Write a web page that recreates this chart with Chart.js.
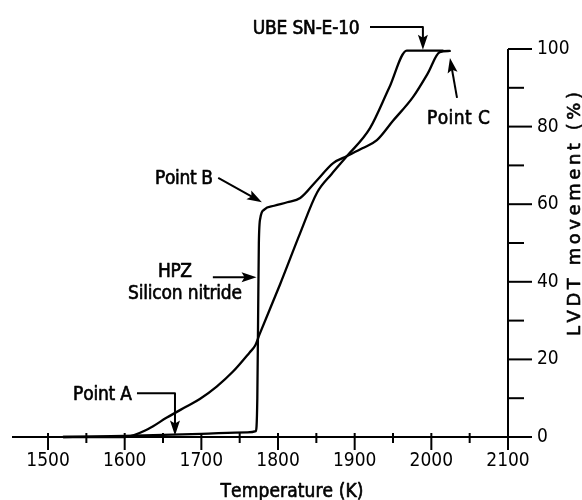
<!DOCTYPE html>
<html><head><meta charset="utf-8">
<script src="https://cdn.jsdelivr.net/npm/chart.js@4/dist/chart.umd.min.js"></script>
<style>html,body{margin:0;padding:0;background:#fff}canvas{display:block}</style>
</head><body>
<canvas id="c" width="582" height="500"></canvas>
<script>
const FONT = '"DejaVu Sans Condensed", "DejaVu Sans", sans-serif';
const FONT_WIDE = '"DejaVu Sans", sans-serif';

// HPZ silicon nitride
const hpzTemperature = [1520, 1600, 1700, 1760, 1771, 1773, 1774, 1775, 1777, 1782, 1795, 1812, 1829, 1850, 1872, 1890, 1910, 1929, 1950, 1976, 1995, 2011, 2024];
const hpzMovement    = [0,    0.3,  0.8,  1.2,  1.5,  10,   30,   50,   56.5, 58.6, 59.6, 60.5, 61.6, 66,   70.6, 72.4, 74.4, 76.5, 81.5, 87.6, 93.6, 99.2, 99.5];

// UBE SN-E-10
const ubeTemperature = [1520, 1600, 1630, 1655, 1680, 1698, 1720, 1741, 1763, 1770, 1776, 1803, 1829, 1851, 1870, 1890, 1920, 1945, 1968, 2015];
const ubeMovement    = [0,    0,    2.0,  5.0,  7.8,  9.8,  13,   16.8, 21.8, 23.5, 26.5, 39.5, 52.6, 63,   67.8, 72.4, 79.6, 90,   99.6, 99.6];

const xTickLabels = [1500, 1600, 1700, 1800, 1900, 2000, 2100];
const xMinorTicks = [1550, 1650, 1750, 1850, 1950, 2050];
const yTickLabels = [0, 20, 40, 60, 80, 100];
const yMinorTicks = [10, 30, 50, 70, 90];

const xTitle = 'Temperature (K)';
const yTitle = 'LVDT movement (%)';

function spaced(ctx, str, x, y, width, align) {
  const chars = [...str];
  const w = chars.map(c => ctx.measureText(c).width);
  const nat = w.reduce((a, b) => a + b, 0);
  const gap = chars.length > 1 ? (width - nat) / (chars.length - 1) : 0;
  let cx = align === 'center' ? x - width / 2 : x;
  ctx.textAlign = 'left';
  chars.forEach((c, i) => { ctx.fillText(c, cx, y); ctx.strokeText(c, cx, y); cx += w[i] + gap; });
}

function arrowHead(ctx, x1, y1, x2, y2) {
  const a = Math.atan2(y2 - y1, x2 - x1);
  const L = 15, H = 5;
  ctx.beginPath();
  ctx.moveTo(x2, y2);
  ctx.lineTo(x2 - L * Math.cos(a) + H * Math.sin(a), y2 - L * Math.sin(a) - H * Math.cos(a));
  ctx.lineTo(x2 - L * 0.8 * Math.cos(a), y2 - L * 0.8 * Math.sin(a));
  ctx.lineTo(x2 - L * Math.cos(a) - H * Math.sin(a), y2 - L * Math.sin(a) + H * Math.cos(a));
  ctx.closePath();
  ctx.fill();
}

function arrowPath(ctx, pts) {
  ctx.beginPath();
  ctx.moveTo(pts[0][0], pts[0][1]);
  for (let i = 1; i < pts.length - 1; i++) ctx.lineTo(pts[i][0], pts[i][1]);
  const p = pts[pts.length - 2], q = pts[pts.length - 1];
  const a = Math.atan2(q[1] - p[1], q[0] - p[0]);
  ctx.lineTo(q[0] - 10 * Math.cos(a), q[1] - 10 * Math.sin(a));
  ctx.stroke();
  arrowHead(ctx, p[0], p[1], q[0], q[1]);
}

const axesPlugin = {
  id: 'axesPlugin',
  afterDraw(chart) {
    const ctx = chart.ctx, xs = chart.scales.x, ys = chart.scales.y;
    const X = v => xs.getPixelForValue(v), Y = v => ys.getPixelForValue(v);
    ctx.save();
    ctx.strokeStyle = '#000'; ctx.fillStyle = '#000';
    ctx.lineWidth = 2; ctx.lineCap = 'butt';
    const y0 = Y(0), xR = X(2100);
    // axis lines
    ctx.beginPath(); ctx.moveTo(chart.chartArea.left, y0); ctx.lineTo(xR + 22, y0); ctx.stroke();
    ctx.beginPath(); ctx.moveTo(xR, Y(100)); ctx.lineTo(xR, y0 + 13); ctx.stroke();
    // x ticks
    xTickLabels.forEach(v => { if (v === 2100) return; ctx.beginPath(); ctx.moveTo(X(v), y0 - 4); ctx.lineTo(X(v), y0 + 13); ctx.stroke(); });
    xMinorTicks.forEach(v => { ctx.beginPath(); ctx.moveTo(X(v), y0 - 4); ctx.lineTo(X(v), y0 + 6); ctx.stroke(); });
    // y ticks
    yTickLabels.forEach(v => { ctx.beginPath(); ctx.moveTo(xR, Y(v)); ctx.lineTo(xR + 24, Y(v)); ctx.stroke(); });
    yMinorTicks.forEach(v => { ctx.beginPath(); ctx.moveTo(xR, Y(v)); ctx.lineTo(xR + 16, Y(v)); ctx.stroke(); });

    // axis titles
    ctx.lineWidth = 0.6; ctx.lineJoin = 'round';
    ctx.font = '19px ' + FONT;
    ctx.textBaseline = 'alphabetic';
    spaced(ctx, xTitle, 292, 490 + 0.3645 * 19, 143, 'center');
    ctx.save();
    ctx.translate(573, 214);
    ctx.rotate(-Math.PI / 2);
    ctx.font = '18px ' + FONT_WIDE;
    spaced(ctx, yTitle, 0, 0.3645 * 18, 244, 'center');
    ctx.restore();

    // annotations
    const fs = 19;
    ctx.font = fs + 'px ' + FONT;
    const base = v => Y(v) + 0.3645 * fs;
    spaced(ctx, 'UBE SN-E-10', X(1767), base(105.7), 107, 'left');
    spaced(ctx, 'Point C', X(1994.3), base(82.5), 63, 'left');
    spaced(ctx, 'Point B', X(1639.6), base(67), 58, 'left');
    spaced(ctx, 'HPZ', X(1665.6), base(43), 34, 'center');
    spaced(ctx, 'Silicon nitride', X(1678.7), base(37.4), 114, 'center');
    spaced(ctx, 'Point A', X(1532.6), base(11.3), 59, 'left');

    ctx.lineWidth = 2;
    arrowPath(ctx, [[X(1920), Y(105.7)], [X(1989), Y(105.7)], [X(1989), Y(99.8)]]);
    arrowPath(ctx, [[X(2033.5), Y(87.4)], [X(2024.3), Y(97.7)]]);
    arrowPath(ctx, [[X(1722), Y(66.8)], [X(1779), Y(60.5)]]);
    arrowPath(ctx, [[X(1715), Y(41.2)], [X(1772), Y(41.2)]]);
    arrowPath(ctx, [[X(1616), Y(11.3)], [X(1665.6), Y(11.3)], [X(1665.6), Y(0.4)]]);
    ctx.restore();
  }
};

const toPts = (xs, ys) => xs.map((t, i) => ({ x: t, y: ys[i] }));

new Chart(document.getElementById('c').getContext('2d'), {
  type: 'line',
  data: {
    datasets: [
      { label: 'HPZ Silicon nitride', data: toPts(hpzTemperature, hpzMovement), borderColor: '#000', borderWidth: 2.3, pointRadius: 0, fill: false, cubicInterpolationMode: 'monotone', clip: false },
      { label: 'UBE SN-E-10', data: toPts(ubeTemperature, ubeMovement), borderColor: '#000', borderWidth: 2.3, pointRadius: 0, fill: false, cubicInterpolationMode: 'monotone', clip: false }
    ]
  },
  options: {
    responsive: false, animation: false, devicePixelRatio: 1,
    layout: { padding: { left: 12, top: 49, right: 0, bottom: 0 } },
    plugins: { legend: { display: false }, tooltip: { enabled: false } },
    elements: { line: { borderJoinStyle: 'round', borderCapStyle: 'round' } },
    scales: {
      x: {
        type: 'linear', min: 1453, max: 2100, position: 'bottom',
        afterBuildTicks: s => { s.ticks = xTickLabels.map(v => ({ value: v })); },
        afterFit: s => { s.height = 63; },
        ticks: { color: '#000', font: { family: FONT, size: 19, lineHeight: 1.2 }, padding: 13, maxRotation: 0, autoSkip: false, callback: v => String(v) },
        grid: { display: false, drawTicks: false }, border: { display: false }
      },
      y: {
        type: 'linear', min: 0, max: 100, position: 'right',
        afterBuildTicks: s => { s.ticks = yTickLabels.map(v => ({ value: v })); },
        afterFit: s => { s.width = 74; },
        ticks: { color: '#000', font: { family: FONT, size: 19, lineHeight: 1.2 }, padding: 29, autoSkip: false, callback: v => String(v) },
        grid: { display: false, drawTicks: false }, border: { display: false }
      }
    }
  },
  plugins: [axesPlugin]
});
</script>
</body></html>
